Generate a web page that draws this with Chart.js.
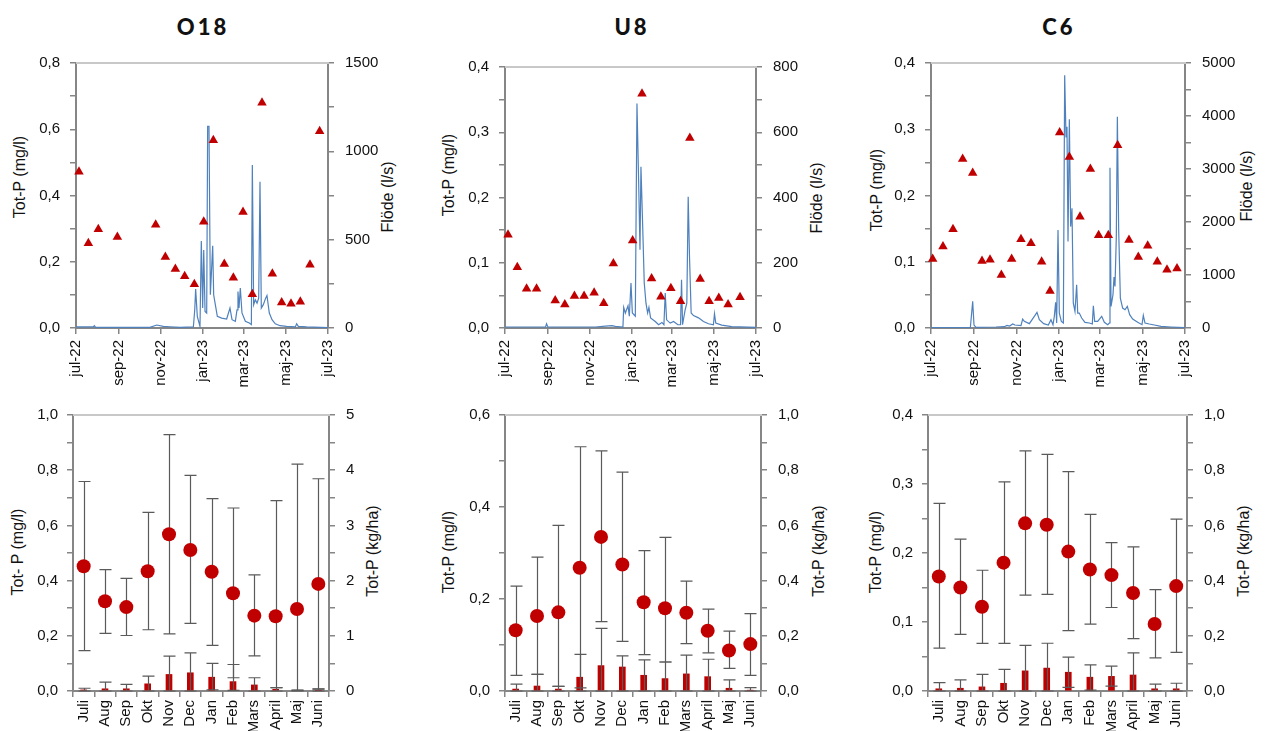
<!DOCTYPE html>
<html>
<head>
<meta charset="utf-8">
<title>Tot-P och flöde</title>
<script src="https://cdn.jsdelivr.net/npm/chart.js@4.4.0/dist/chart.umd.min.js"></script>
<style>
  html, body { margin: 0; padding: 0; background: #fff; }
  #page { position: relative; width: 1266px; height: 731px; overflow: hidden; font-family: 'Liberation Sans', Arial, sans-serif; }
  #page canvas { position: absolute; }
  .panel-title { position: absolute; font-family: Lato, 'Noto Sans', sans-serif; font-weight: 900; font-size: 22px; letter-spacing: 3px; color: #111; transform: translate(-50%, -50%); white-space: nowrap; }
  .axis-title { position: absolute; font-size: 16px; color: #111; white-space: nowrap; transform: translate(-50%, -50%) rotate(-90deg); }
</style>
</head>
<body>
<div id="page">
  <div class="panel-title" style="left:203px; top:26px;">O18</div>
  <div class="panel-title" style="left:632px; top:26px;">U8</div>
  <div class="panel-title" style="left:1059px; top:26px;">C6</div>

  <div class="axis-title" style="left:20px; top:177px;">Tot-P (mg/l)</div>
  <div class="axis-title" style="left:388px; top:197px;">Flöde (l/s)</div>
  <div class="axis-title" style="left:449px; top:175px;">Tot-P (mg/l)</div>
  <div class="axis-title" style="left:817px; top:198px;">Flöde (l/s)</div>
  <div class="axis-title" style="left:877px; top:190px;">Tot-P (mg/l)</div>
  <div class="axis-title" style="left:1247px; top:186px;">Flöde (l/s)</div>

  <div class="axis-title" style="left:18px; top:552px;">Tot- P (mg/l)</div>
  <div class="axis-title" style="left:373px; top:551px;">Tot-P (kg/ha)</div>
  <div class="axis-title" style="left:449px; top:552px;">Tot-P (mg/l)</div>
  <div class="axis-title" style="left:819px; top:551px;">Tot-P (kg/ha)</div>
  <div class="axis-title" style="left:876px; top:552px;">Tot-P (mg/l)</div>
  <div class="axis-title" style="left:1244px; top:551px;">Tot-P (kg/ha)</div>
</div>
<script>
// Tick labels and categories
const date_tick_labels = ['jul-22', 'sep-22', 'nov-22', 'jan-23', 'mar-23', 'maj-23', 'jul-23'];
const date_tick_days = [0, 62, 123, 184, 243, 304, 365];
const month_labels = ['Juli', 'Aug', 'Sep', 'Okt', 'Nov', 'Dec', 'Jan', 'Feb', 'Mars', 'April', 'Maj', 'Juni'];

// O18 - samples (days after 1 jul 2022) and daily flow
const o18_sample_days = [4.3, 17.9, 32.3, 59.9, 115.4, 129.4, 143.9, 157.4, 171.4, 185, 198.9, 214.8, 227.9, 241.9, 255.4, 269.4, 284.4, 297.9, 311.4, 324.9, 338.9, 352.9];
const o18_tot_p = [0.472, 0.256, 0.298, 0.275, 0.312, 0.214, 0.178, 0.156, 0.132, 0.321, 0.567, 0.193, 0.152, 0.350, 0.102, 0.680, 0.164, 0.077, 0.073, 0.079, 0.191, 0.594];
const o18_flow_days = [0, 25, 26.6, 28.5, 107, 117, 126.5, 136, 151, 170, 172, 173.3, 175.7, 179.6, 181.5, 183.5, 185, 186.9, 189.3, 190.7, 192.6, 194.6, 198, 199.4, 201.8, 204.7, 211, 218.2, 223, 226, 230.8, 233.2, 234.6, 236.1, 238, 240.4, 245.3, 251, 254, 255.4, 257.3, 259.7, 262.2, 264.6, 266.5, 268.4, 271.3, 274.7, 276.6, 280, 283.9, 288.7, 295.5, 305, 317.7, 319.6, 322, 334, 365];
const o18_flow = [6, 6, 13, 4, 4, 17, 9, 7, 4, 6, 103, 220, 66, 9, 493, 113, 442, 94, 85, 1142, 1142, 188, 465, 188, 132, 66, 56, 51, 113, 47, 38, 103, 207, 113, 226, 85, 38, 28, 19, 922, 132, 160, 141, 169, 828, 113, 132, 169, 184, 85, 47, 24, 13, 9, 6, 24, 9, 6, 2];

// U8
const u8_sample_days = [4.4, 17.9, 31.4, 45.9, 73, 87, 101, 115, 129.6, 143.6, 157.6, 185.6, 199.2, 213.2, 226.7, 241.2, 255.3, 268.8, 283.8, 296.8, 310.9, 324.4, 341.8];
const u8_tot_p = [0.143, 0.093, 0.060, 0.060, 0.042, 0.036, 0.049, 0.049, 0.054, 0.038, 0.099, 0.134, 0.359, 0.076, 0.048, 0.061, 0.041, 0.291, 0.075, 0.041, 0.046, 0.036, 0.047];
const u8_flow_days = [0, 59, 60.4, 62.4, 131.5, 146, 155.6, 160.4, 171.5, 172.6, 175, 178.9, 180.8, 183.2, 185.2, 189.5, 191.9, 194.3, 196.3, 197.7, 200.1, 202.5, 205, 207.4, 209.3, 211.7, 218.5, 223.4, 228.2, 231.1, 233, 235, 240.3, 245.1, 251.4, 255.3, 256.7, 258.2, 262, 264.4, 266.4, 268.3, 270.7, 274.1, 281.4, 288.6, 295.9, 303.1, 304.6, 306.5, 315.2, 329.7, 365];
const u8_flow = [3, 3, 13, 3, 3, 6, 7, 5, 3, 63, 46, 68, 36, 138, 46, 36, 688, 453, 240, 494, 321, 138, 76, 46, 63, 31, 20, 10, 17, 10, 107, 25, 15, 20, 10, 10, 148, 10, 56, 76, 402, 219, 46, 38, 31, 20, 13, 10, 44, 15, 9, 4, 2];

// C6
const c6_sample_days = [2.4, 17.2, 31.6, 45.5, 59.9, 73.3, 84.8, 101.1, 115.9, 129.3, 143.7, 159, 171, 184.9, 198.8, 214.1, 229, 240.9, 254.8, 268.2, 284.5, 297.9, 311.4, 325.2, 339.1, 353.5];
const c6_tot_p = [0.104, 0.123, 0.149, 0.255, 0.234, 0.101, 0.103, 0.080, 0.104, 0.134, 0.128, 0.100, 0.056, 0.295, 0.258, 0.168, 0.240, 0.140, 0.140, 0.276, 0.133, 0.107, 0.124, 0.100, 0.088, 0.090];
const c6_flow_days = [0, 56.5, 58, 59.9, 61.8, 64.7, 93.4, 105.4, 109.2, 113, 117.4, 120.7, 129.3, 131.7, 134.1, 141.3, 148.5, 152.3, 155.7, 161.9, 168.6, 172.4, 175.3, 177.2, 179.1, 180.6, 182.5, 184.4, 187.3, 190.2, 192.1, 194, 195.4, 196.9, 198.8, 200.7, 202.6, 204.5, 206.9, 209.3, 210.8, 213.1, 216.5, 221.3, 227.5, 231.8, 233.3, 235.2, 239.5, 245.3, 249.1, 253.9, 256.3, 257.2, 258.7, 261.5, 263, 264.4, 266.3, 267.8, 269.7, 272.1, 275.4, 278.8, 282.1, 285.5, 289.8, 297, 303.2, 305.1, 307.5, 313.7, 320.9, 330.5, 344.9, 365];
const c6_flow = [6, 6, 220, 502, 56, 13, 19, 25, 50, 38, 75, 56, 44, 169, 125, 82, 220, 295, 157, 82, 56, 157, 63, 220, 483, 94, 1851, 282, 125, 94, 4768, 3607, 3795, 1631, 3940, 1913, 2258, 470, 314, 815, 282, 282, 188, 107, 94, 75, 420, 125, 125, 220, 107, 63, 94, 3024, 408, 627, 960, 784, 1725, 3984, 1851, 565, 376, 345, 408, 251, 169, 107, 63, 238, 94, 75, 56, 31, 19, 6];

// Monthly statistics: concentration (mg/l) and load (kg/ha)
const o18_conc = [0.452, 0.325, 0.304, 0.434, 0.568, 0.511, 0.432, 0.354, 0.273, 0.271, 0.297, 0.388];
const o18_conc_min = [0.146, 0.209, 0.201, 0.222, 0.207, 0.245, 0.165, 0.048, 0.127, 0.012, 0.002, 0.007];
const o18_conc_max = [0.759, 0.440, 0.408, 0.647, 0.929, 0.781, 0.697, 0.663, 0.421, 0.690, 0.822, 0.769];
const o18_load = [0.02, 0.04, 0.04, 0.13, 0.30, 0.33, 0.25, 0.17, 0.11, 0.03, 0.005, 0.01];
const o18_load_min = [0, 0, 0, 0, 0, 0, 0.02, 0.01, 0, 0, 0, 0];
const o18_load_max = [0.05, 0.16, 0.12, 0.27, 0.63, 0.69, 0.50, 0.48, 0.24, 0.06, 0.015, 0.04];

const u8_conc = [0.132, 0.163, 0.171, 0.268, 0.335, 0.275, 0.193, 0.180, 0.170, 0.131, 0.088, 0.102];
const u8_conc_min = [0.034, 0.036, 0.010, 0.007, 0.151, 0.108, 0.079, 0.063, 0.103, 0.083, 0.049, 0.034];
const u8_conc_max = [0.228, 0.291, 0.360, 0.531, 0.522, 0.476, 0.305, 0.334, 0.239, 0.178, 0.130, 0.168];
const u8_load = [0.007, 0.018, 0.007, 0.05, 0.092, 0.087, 0.057, 0.045, 0.062, 0.052, 0.01, 0.003];
const u8_load_min = [0, 0, 0, 0, 0, 0, 0, 0, 0, 0, 0, 0];
const u8_load_max = [0.025, 0.06, 0.017, 0.133, 0.227, 0.127, 0.113, 0.105, 0.13, 0.115, 0.04, 0.012];

const c6_conc = [0.166, 0.150, 0.122, 0.186, 0.243, 0.241, 0.202, 0.176, 0.168, 0.142, 0.097, 0.152];
const c6_conc_min = [0.062, 0.082, 0.069, 0.069, 0.139, 0.140, 0.0875, 0.097, 0.121, 0.076, 0.048, 0.056];
const c6_conc_max = [0.272, 0.220, 0.175, 0.303, 0.348, 0.343, 0.318, 0.256, 0.215, 0.209, 0.147, 0.249];
const c6_load = [0.008, 0.01, 0.015, 0.028, 0.073, 0.083, 0.068, 0.05, 0.053, 0.058, 0.008, 0.008];
const c6_load_min = [0, 0, 0, 0, 0, 0, 0.013, 0.003, 0.018, 0, 0, 0];
const c6_load_max = [0.03, 0.04, 0.06, 0.078, 0.165, 0.173, 0.123, 0.095, 0.09, 0.138, 0.025, 0.028];

const RED = '#c00000';
const BLUE = '#4f81bd';
const AXIS_GRAY = '#868686';

Chart.defaults.font.family = "'Liberation Sans', Arial, sans-serif";
Chart.defaults.font.size = 15;
Chart.defaults.color = '#111';

// Light frame line along the top of the plot area
const top_frame = {
    id: 'top_frame',
    beforeDatasetsDraw(chart) {
        const a = chart.chartArea, ctx = chart.ctx;
        ctx.save();
        ctx.strokeStyle = '#c8c8c8';
        ctx.lineWidth = 2;
        ctx.beginPath();
        ctx.moveTo(a.left, a.top);
        ctx.lineTo(a.right + 1, a.top);
        ctx.stroke();
        ctx.restore();
    }
};

// Min/max whiskers, drawn right after the bars so the dots sit on top
function make_error_bars(sets) {
    return {
        id: 'error_bars',
        afterDatasetDraw(chart, args) {
            if (args.meta.type !== 'bar') return;
            const ctx = chart.ctx, x = chart.scales.x;
            ctx.save();
            ctx.strokeStyle = '#5a5a5a';
            ctx.lineWidth = 1.2;
            sets.forEach(function(set) {
                const y = chart.scales[set.axis];
                set.low.forEach(function(lo, i) {
                    const px = Math.round(x.getPixelForValue(i)) + 0.5;
                    const y1 = y.getPixelForValue(lo);
                    const y2 = y.getPixelForValue(set.high[i]);
                    ctx.beginPath();
                    ctx.moveTo(px, y1); ctx.lineTo(px, y2);
                    ctx.moveTo(px - 6, y1); ctx.lineTo(px + 6, y1);
                    ctx.moveTo(px - 6, y2); ctx.lineTo(px + 6, y2);
                    ctx.stroke();
                });
            });
            ctx.restore();
        }
    };
}

function make_canvas(box) {
    const c = document.createElement('canvas');
    c.width = box.w;
    c.height = box.h;
    c.style.left = box.x + 'px';
    c.style.top = box.y + 'px';
    document.getElementById('page').appendChild(c);
    return c;
}

// Ticks every minor step, label only on major steps
function y_axis(position, min, max, minor, major, decimals, width, padding) {
    return {
        type: 'linear',
        position: position,
        min: min,
        max: max,
        afterBuildTicks: function(scale) {
            const n = Math.round((max - min) / minor);
            const t = [];
            for (let i = 0; i <= n; i++) t.push({ value: +(min + i * minor).toFixed(6) });
            scale.ticks = t;
        },
        afterFit: function(scale) { scale.width = width; },
        grid: { display: true, drawOnChartArea: false, drawTicks: true, tickLength: 6, color: AXIS_GRAY, lineWidth: 1.5 },
        border: { display: true, color: AXIS_GRAY, width: 2 },
        ticks: {
            autoSkip: false,
            padding: padding,
            callback: function(v) {
                const q = v / major;
                if (Math.abs(q - Math.round(q)) > 1e-6) return '';
                return decimals ? v.toFixed(decimals).replace('.', ',') : String(Math.round(v));
            }
        }
    };
}

function base_options(box, area) {
    return {
        responsive: false,
        animation: false,
        events: [],
        layout: { padding: { top: area.t - box.y, left: 0, right: 0, bottom: 0 } },
        plugins: { legend: { display: false }, tooltip: { enabled: false } }
    };
}

// Top row: Tot-P samples (triangles) and daily flow (line)
function draw_flow_panel(box, area, sample_days, tot_p, flow_days, flow, left, right) {
    const canvas = make_canvas(box);
    const options = base_options(box, area);
    options.scales = {
        x: {
            type: 'linear',
            min: 0,
            max: 365,
            afterBuildTicks: function(scale) { scale.ticks = date_tick_days.map(v => ({ value: v })); },
            afterFit: function(scale) { scale.height = box.y + box.h - area.b; },
            grid: { display: true, drawOnChartArea: false, drawTicks: true, tickLength: 6, color: AXIS_GRAY, lineWidth: 1.5 },
            border: { display: true, color: AXIS_GRAY, width: 2 },
            ticks: {
                autoSkip: false, minRotation: 90, maxRotation: 90, padding: 6,
                callback: v => date_tick_labels[date_tick_days.indexOf(v)]
            }
        },
        y: y_axis('left', 0, left.max, left.minor, left.major, 1, area.l - box.x, 10),
        y2: y_axis('right', 0, right.max, right.minor, right.major, 0, box.x + box.w - area.r, 11)
    };
    new Chart(canvas, {
        type: 'line',
        data: {
            datasets: [
                {
                    data: sample_days.map((d, i) => ({ x: d, y: tot_p[i] })),
                    yAxisID: 'y',
                    showLine: false,
                    pointStyle: 'triangle',
                    pointRadius: 5.5,
                    pointBackgroundColor: RED,
                    pointBorderColor: RED,
                    pointBorderWidth: 0,
                    clip: false,
                    order: 0
                },
                {
                    data: flow_days.map((d, i) => ({ x: d, y: flow[i] })),
                    yAxisID: 'y2',
                    borderColor: BLUE,
                    borderWidth: 1.2,
                    pointRadius: 0,
                    tension: 0,
                    order: 1
                }
            ]
        },
        options: options,
        plugins: [top_frame]
    });
}

// Bottom row: monthly mean concentration (dots) and load (bars) with min/max
function draw_month_panel(box, area, conc, conc_min, conc_max, load, load_min, load_max, left, right) {
    const canvas = make_canvas(box);
    const options = base_options(box, area);
    options.scales = {
        x: {
            type: 'category',
            offset: true,
            afterFit: function(scale) { scale.height = box.y + box.h - area.b; },
            grid: { display: true, offset: true, drawOnChartArea: false, drawTicks: true, tickLength: 6, color: AXIS_GRAY, lineWidth: 1.5 },
            border: { display: true, color: AXIS_GRAY, width: 2 },
            ticks: { autoSkip: false, minRotation: 90, maxRotation: 90, padding: 3 }
        },
        y: y_axis('left', 0, left.max, left.minor, left.major, 1, area.l - box.x, 9),
        y2: y_axis('right', 0, right.max, right.minor, right.major, right.decimals, box.x + box.w - area.r, 11)
    };
    new Chart(canvas, {
        type: 'bar',
        data: {
            labels: month_labels,
            datasets: [
                {
                    type: 'line',
                    data: conc,
                    yAxisID: 'y',
                    showLine: false,
                    pointRadius: 7,
                    pointBackgroundColor: RED,
                    pointBorderColor: RED,
                    pointBorderWidth: 0,
                    clip: false,
                    order: 0
                },
                {
                    type: 'bar',
                    data: load,
                    yAxisID: 'y2',
                    backgroundColor: RED,
                    barThickness: 6,
                    order: 1
                }
            ]
        },
        options: options,
        plugins: [top_frame, make_error_bars([
            { axis: 'y2', low: load_min, high: load_max },
            { axis: 'y', low: conc_min, high: conc_max }
        ])]
    });
}

draw_flow_panel({ x: 0, y: 40, w: 422, h: 360 }, { l: 76, t: 63, r: 328, b: 328 },
    o18_sample_days, o18_tot_p, o18_flow_days, o18_flow,
    { max: 0.8, minor: 0.1, major: 0.2 }, { max: 1500, minor: 250, major: 500 });
draw_flow_panel({ x: 422, y: 40, w: 422, h: 360 }, { l: 505, t: 67, r: 756, b: 328 },
    u8_sample_days, u8_tot_p, u8_flow_days, u8_flow,
    { max: 0.4, minor: 0.05, major: 0.1 }, { max: 800, minor: 100, major: 200 });
draw_flow_panel({ x: 844, y: 40, w: 422, h: 360 }, { l: 931, t: 63, r: 1185, b: 328 },
    c6_sample_days, c6_tot_p, c6_flow_days, c6_flow,
    { max: 0.4, minor: 0.05, major: 0.1 }, { max: 5000, minor: 500, major: 1000 });

draw_month_panel({ x: 0, y: 395, w: 422, h: 336 }, { l: 73, t: 411, r: 329, b: 691 },
    o18_conc, o18_conc_min, o18_conc_max, o18_load, o18_load_min, o18_load_max,
    { max: 1.0, minor: 0.1, major: 0.2 }, { max: 5, minor: 0.5, major: 1, decimals: 0 });
draw_month_panel({ x: 422, y: 395, w: 422, h: 336 }, { l: 505, t: 411, r: 761, b: 691 },
    u8_conc, u8_conc_min, u8_conc_max, u8_load, u8_load_min, u8_load_max,
    { max: 0.6, minor: 0.1, major: 0.2 }, { max: 1.0, minor: 0.1, major: 0.2, decimals: 1 });
draw_month_panel({ x: 844, y: 395, w: 422, h: 336 }, { l: 928, t: 411, r: 1187, b: 691 },
    c6_conc, c6_conc_min, c6_conc_max, c6_load, c6_load_min, c6_load_max,
    { max: 0.4, minor: 0.05, major: 0.1 }, { max: 1.0, minor: 0.1, major: 0.2, decimals: 1 });
</script>
</body>
</html>
